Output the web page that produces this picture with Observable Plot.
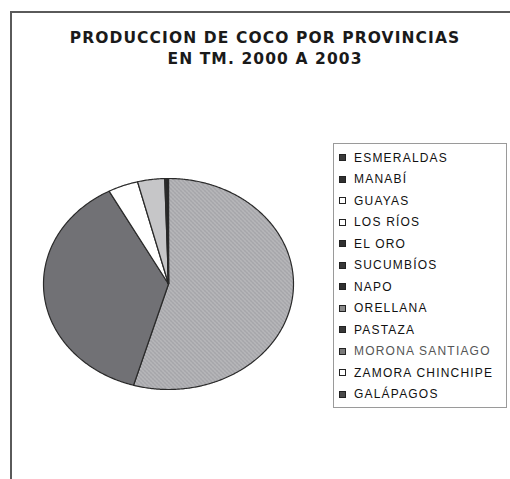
<!DOCTYPE html>
<html>
<head>
<meta charset="utf-8">
<script src="https://cdn.jsdelivr.net/npm/d3@7"></script>
<script src="https://cdn.jsdelivr.net/npm/@observablehq/plot@0.6"></script>
<style>
  html, body { margin: 0; padding: 0; background: #fff; }
  #wrap { position: relative; width: 510px; height: 479px; overflow: hidden; font-family: "Liberation Sans", Arial, sans-serif; }
  #frame { position: absolute; left: 10px; top: 11px; width: 520px; height: 490px; border-left: 2px solid #5a5a5a; border-top: 2px solid #5a5a5a; }
  #title { position: absolute; left: 20px; width: 490px; top: 28px; text-align: center; font-family: "DejaVu Sans", sans-serif; font-weight: bold; font-size: 15.5px; line-height: 21px; color: #1a1a1a; letter-spacing: 1.1px; }
  #chart { position: absolute; left: 0; top: 0; }
  #legend { position: absolute; left: 333px; top: 143px; width: 174px; height: 265px; border: 1px solid #9a9a9a; box-sizing: border-box; padding-top: 3px; }
  .row { height: 21.5px; display: flex; align-items: center; font-size: 12px; letter-spacing: 1.2px; color: #111; white-space: nowrap; }
  .sw { width: 5px; height: 5px; border: 1.5px solid #222; margin-left: 5px; margin-right: 8px; flex: none; }
</style>
</head>
<body>
<div id="wrap">
  <div id="frame"></div>
  <div id="title">PRODUCCION DE COCO POR PROVINCIAS<br>EN TM. 2000 A 2003</div>
  <div id="chart"></div>
  <div id="legend"></div>
</div>
<script>
// Data (TM share)
const provincias = ["ESMERALDAS", "MANABÍ", "GUAYAS", "LOS RÍOS", "EL ORO", "SUCUMBÍOS", "NAPO", "ORELLANA", "PASTAZA", "MORONA SANTIAGO", "ZAMORA CHINCHIPE", "GALÁPAGOS"];
const produccion = [54.5, 37.6, 3.9, 3.5, 0.3, 0.05, 0.03, 0.02, 0.02, 0.03, 0.02, 0.01];
const colores = ["url(#patEsm)", "#717175", "#ffffff", "#c6c6c8", "#303030", "#404040", "#303030", "#8a8a8a", "#404040", "#7a7a7a", "#ffffff", "#5a5a5a"];
const coloresLeyenda = ["#3a3a3a", "#303030", "#ffffff", "#ffffff", "#303030", "#383838", "#303030", "#8a8a8a", "#383838", "#7a7a7a", "#ffffff", "#4a4a4a"];

const data = provincias.map((p, i) => ({provincia: p, valor: produccion[i]}));
const arcs = d3.pie().sort(null).value(d => d.valor)(data);

// Build slice outlines (unit circle, angle clockwise from top)
const pts = [];
arcs.forEach(a => {
  const name = a.data.provincia;
  pts.push({provincia: name, x: 0, y: 0});
  const n = Math.max(2, Math.ceil((a.endAngle - a.startAngle) / 0.01));
  for (let k = 0; k <= n; k++) {
    const t = a.startAngle + (a.endAngle - a.startAngle) * k / n;
    pts.push({provincia: name, x: Math.sin(t), y: Math.cos(t)});
  }
  pts.push({provincia: name, x: 0, y: 0});
});

const chart = Plot.plot({
  width: 510,
  height: 479,
  margin: 0,
  x: {domain: [-1, 1], range: [43, 293], axis: null},
  y: {domain: [-1, 1], range: [389, 178], axis: null},
  color: {domain: provincias, range: colores},
  marks: [
    Plot.line(pts, {x: "x", y: "y", z: "provincia", fill: "provincia", stroke: "#2a2a2a", strokeWidth: 1.2, strokeLinejoin: "round", curve: "linear"})
  ]
});

// pattern for the first slice
const defs = document.createElementNS("http://www.w3.org/2000/svg", "defs");
defs.innerHTML = `
  <pattern id="patEsm" patternUnits="userSpaceOnUse" width="4" height="4">
    <rect width="4" height="4" fill="#acacb0"/>
    <rect x="0" y="0" width="1" height="1" fill="#d2d2d5"/>
    <rect x="2" y="2" width="1" height="1" fill="#d2d2d5"/>
    <rect x="1" y="3" width="1" height="1" fill="#949498"/>
    <rect x="3" y="1" width="1" height="1" fill="#949498"/>
  </pattern>`;
chart.insertBefore(defs, chart.firstChild);
chart.style.background = "transparent";
document.getElementById("chart").appendChild(chart);

// Legend
const legend = document.getElementById("legend");
provincias.forEach((p, i) => {
  const row = document.createElement("div");
  row.className = "row";
  const sw = document.createElement("div");
  sw.className = "sw";
  sw.style.background = coloresLeyenda[i];
  const tx = document.createElement("span");
  tx.textContent = p;
  if (p === "MORONA SANTIAGO") tx.style.color = "#555";
  row.appendChild(sw);
  row.appendChild(tx);
  legend.appendChild(row);
});
</script>
</body>
</html>
